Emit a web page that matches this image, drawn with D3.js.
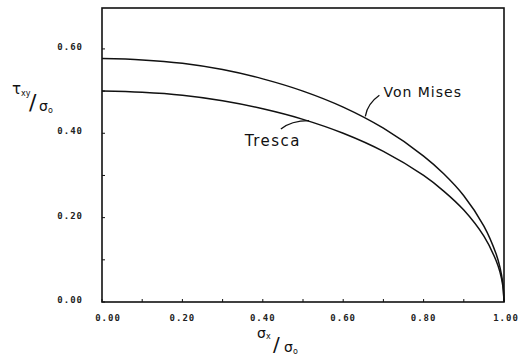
<!DOCTYPE html>
<html>
<head>
<meta charset="utf-8">
<script src="https://cdn.jsdelivr.net/npm/d3@7"></script>
<style>
  body { margin: 0; background: #fff; }
  .tick-label { font-family: "DejaVu Sans Mono", monospace; font-weight: bold; font-size: 9px; fill: #222; letter-spacing: 1px; }
  .hand { font-family: "DejaVu Sans", sans-serif; fill: #111; }
</style>
</head>
<body>
<div id="chart"></div>
<script>
// values
var sigmaX    = [0, 0.1, 0.2, 0.3, 0.4, 0.5, 0.6, 0.7, 0.8, 0.85, 0.9, 0.95, 0.98, 0.99, 0.997, 1.0];
var vonMises  = [0.577, 0.574, 0.566, 0.551, 0.529, 0.500, 0.462, 0.412, 0.346, 0.304, 0.252, 0.180, 0.115, 0.082, 0.045, 0.0];
var tresca    = [0.500, 0.497, 0.490, 0.477, 0.458, 0.433, 0.400, 0.357, 0.300, 0.263, 0.218, 0.156, 0.099, 0.071, 0.039, 0.0];
var xTicks    = [0, 0.2, 0.4, 0.6, 0.8, 1.0];
var yTicks    = [0, 0.2, 0.4, 0.6];
var minorTicks = [0.1, 0.3, 0.5, 0.7, 0.9];

var W = 521, H = 360;
var margin = {top: 8, right: 17, bottom: 58, left: 102},
    width = W - margin.left - margin.right,
    height = H - margin.top - margin.bottom;

var svg = d3.select("#chart").append("svg")
    .attr("width", W)
    .attr("height", H)
  .append("g")
    .attr("transform", "translate(" + margin.left + "," + margin.top + ")");

var x = d3.scaleLinear().domain([0, 1]).range([0, width]);
var y = d3.scaleLinear().domain([0, 0.697]).range([height, 0]);

// frame
svg.append("rect")
    .attr("width", width)
    .attr("height", height)
    .style("fill", "none")
    .style("stroke", "#111")
    .style("stroke-width", 1.6);

// small inward ticks
svg.selectAll(".xt").data(xTicks.concat(minorTicks))
  .enter().append("line")
    .attr("x1", function(d){ return x(d); })
    .attr("x2", function(d){ return x(d); })
    .attr("y1", height)
    .attr("y2", height - 3)
    .style("stroke", "#111");

svg.selectAll(".yt").data(yTicks.concat([0.1, 0.3, 0.5]))
  .enter().append("line")
    .attr("x1", 0)
    .attr("x2", 3)
    .attr("y1", function(d){ return y(d); })
    .attr("y2", function(d){ return y(d); })
    .style("stroke", "#111");

// tick labels
svg.selectAll(".xl").data(xTicks)
  .enter().append("text")
    .attr("class", "tick-label")
    .attr("x", function(d){ return x(d) + (d === 0 ? 6 : d === 1 ? 2 : 0); })
    .attr("y", height + 19)
    .attr("text-anchor", "middle")
    .text(function(d){ return d.toFixed(2); });

svg.selectAll(".yl").data(yTicks)
  .enter().append("text")
    .attr("class", "tick-label")
    .attr("x", -19)
    .attr("y", function(d){ return y(d); })
    .attr("text-anchor", "end")
    .attr("dy", "0.1em")
    .text(function(d){ return d.toFixed(2); });

// curves
var line = d3.line()
    .x(function(d){ return x(d[0]); })
    .y(function(d){ return y(d[1]); })
    .curve(d3.curveCatmullRom.alpha(0.5));

[vonMises, tresca].forEach(function(s){
  svg.append("path")
      .datum(sigmaX.map(function(v, i){ return [v, s[i]]; }))
      .attr("d", line)
      .style("fill", "none")
      .style("stroke", "#111")
      .style("stroke-width", 1.5);
});

// curve labels with pointers
svg.append("text").attr("class", "hand")
    .attr("x", x(0.70)).attr("y", y(0.485))
    .style("font-size", "14px")
    .style("letter-spacing", "1px")
    .text("Von Mises");
svg.append("path")
    .attr("d", "M" + (x(0.655)) + "," + (y(0.44)) + " Q" + (x(0.66)) + "," + (y(0.47)) + " " + (x(0.69)) + "," + (y(0.49)))
    .style("fill", "none").style("stroke", "#111").style("stroke-width", 1.3);

svg.append("text").attr("class", "hand")
    .attr("x", x(0.355)).attr("y", y(0.37))
    .style("font-size", "15px")
    .style("letter-spacing", "1.5px")
    .text("Tresca");
svg.append("path")
    .attr("d", "M" + (x(0.445)) + "," + (y(0.41)) + " Q" + (x(0.47)) + "," + (y(0.43)) + " " + (x(0.515)) + "," + (y(0.43)))
    .style("fill", "none").style("stroke", "#111").style("stroke-width", 1.3);

// axis titles
var root = d3.select("svg");
var yt = root.append("text").attr("class", "hand")
    .attr("x", 12).attr("y", 94).style("font-size", "15px");
yt.append("tspan").text("τ");
yt.append("tspan").attr("dy", 2).style("font-size", "8px").text("xy");
root.append("text").attr("class", "hand")
    .attr("x", 29).attr("y", 110).style("font-size", "22px").text("/");
var yt2 = root.append("text").attr("class", "hand")
    .attr("x", 39).attr("y", 111).style("font-size", "14px");
yt2.append("tspan").text("σ");
yt2.append("tspan").attr("dy", 2).style("font-size", "8px").text("o");

var xt = root.append("text").attr("class", "hand")
    .attr("x", 257).attr("y", 338).style("font-size", "14px");
xt.append("tspan").text("σ");
xt.append("tspan").attr("dy", 1).style("font-size", "8px").text("x");
root.append("text").attr("class", "hand")
    .attr("x", 273).attr("y", 351).style("font-size", "20px").text("/");
var xt2 = root.append("text").attr("class", "hand")
    .attr("x", 284).attr("y", 352).style("font-size", "14px");
xt2.append("tspan").text("σ");
xt2.append("tspan").attr("dy", 2).style("font-size", "8px").text("o");
</script>
</body>
</html>
